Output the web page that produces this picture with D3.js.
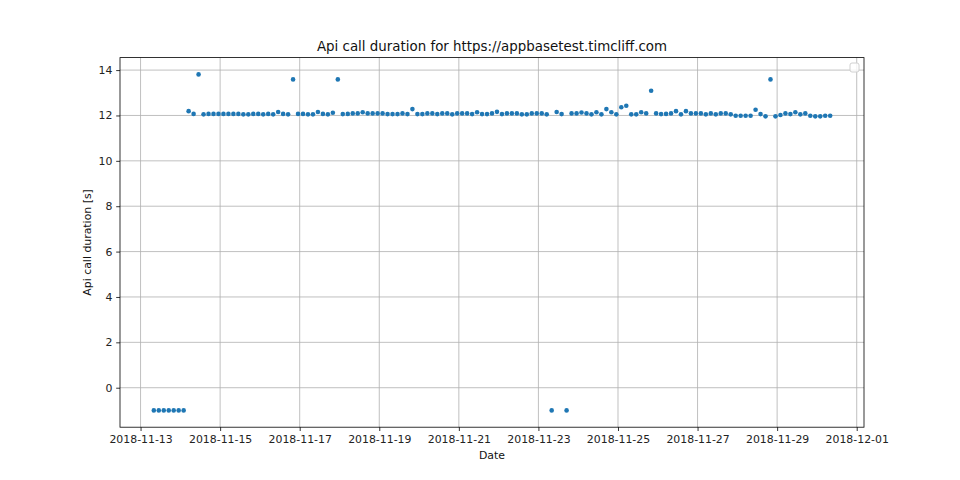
<!DOCTYPE html>
<html>
<head>
<meta charset="utf-8">
<script src="https://cdn.jsdelivr.net/npm/d3@7"></script>
<style>
  html, body { margin: 0; padding: 0; background: #fff; }
  svg { display: block; font-family: "DejaVu Sans", sans-serif; }
</style>
</head>
<body>
<svg id="chart" width="960" height="480"></svg>
<script>
// ---- data ----
const chartTitle = "Api call duration for https://appbasetest.timcliff.com";
const xLabel = "Date";
const yLabel = "Api call duration [s]";
// measurements taken every 3 hours starting at this time
const sampleStart = "2018-11-13T08:00:00";
const sampleStepHours = 3;
const durations = [
  -1, -1, -1, -1, -1, -1, -1,
  12.19, 12.07, 13.81, 12.05, 12.07, 12.07, 12.07, 12.07, 12.07, 12.07,
  12.07, 12.05, 12.05, 12.07, 12.07, 12.05, 12.07, 12.05, 12.15, 12.07,
  12.05, 13.59, 12.07, 12.07, 12.05, 12.05, 12.15, 12.07, 12.05, 12.12,
  13.59, 12.06, 12.07, 12.09, 12.09, 12.14, 12.09, 12.09, 12.09, 12.09,
  12.06, 12.06, 12.06, 12.09, 12.06, 12.28, 12.06, 12.06, 12.09, 12.09,
  12.06, 12.09, 12.09, 12.05, 12.09, 12.09, 12.09, 12.06, 12.14, 12.06,
  12.06, 12.09, 12.16, 12.06, 12.09, 12.09, 12.09, 12.05, 12.05, 12.09,
  12.09, 12.09, 12.05, -1, 12.15, 12.06, -1, 12.09, 12.09, 12.13,
  12.09, 12.05, 12.14, 12.05, 12.28, 12.14, 12.05, 12.36, 12.43, 12.05,
  12.05, 12.14, 12.09, 13.09, 12.09, 12.06, 12.07, 12.09, 12.19, 12.05,
  12.19, 12.09, 12.09, 12.09, 12.05, 12.09, 12.05, 12.09, 12.09, 12.05,
  11.99, 11.99, 11.99, 11.99, 12.25, 12.06, 11.96, 13.59, 11.96, 12.02,
  12.09, 12.06, 12.14, 12.05, 12.09, 11.99, 11.96, 11.96, 11.99, 11.99
];
const xTickDates = ["2018-11-13", "2018-11-15", "2018-11-17", "2018-11-19", "2018-11-21",
                    "2018-11-23", "2018-11-25", "2018-11-27", "2018-11-29", "2018-12-01"];
const yTickValues = [0, 2, 4, 6, 8, 10, 12, 14];

// ---- build records ----
const t0 = new Date(sampleStart);
const points = durations.map((v, i) => ({
  t: new Date(t0.getTime() + i * sampleStepHours * 3600 * 1000),
  v: v
}));

// ---- layout (matplotlib-like) ----
const plotL = 120, plotR = 864, plotT = 57.6, plotB = 427.2;
const labelSize = "10.9px";

const svg = d3.select("#chart");

// autoscale with 5% margins like matplotlib
const tExt = d3.extent(points, d => d.t);
const tSpan = tExt[1] - tExt[0];
const vExt = d3.extent(points, d => d.v);
const vSpan = vExt[1] - vExt[0];

const x = d3.scaleTime()
  .domain([new Date(tExt[0].getTime() - 0.05 * tSpan), new Date(tExt[1].getTime() + 0.05 * tSpan)])
  .range([plotL, plotR]);
const y = d3.scaleLinear()
  .domain([vExt[0] - 0.05 * vSpan, vExt[1] + 0.05 * vSpan])
  .range([plotB, plotT]);

const parseDay = d3.timeParse("%Y-%m-%d");
const xTicks = xTickDates.map(parseDay);
const fmt = d3.timeFormat("%Y-%m-%d");

// grid
const grid = svg.append("g");
grid.selectAll("line.vx").data(xTicks).enter().append("line")
  .attr("x1", d => x(d)).attr("x2", d => x(d))
  .attr("y1", plotT).attr("y2", plotB)
  .attr("stroke", "#b0b0b0").attr("stroke-width", 0.8);
grid.selectAll("line.hy").data(yTickValues).enter().append("line")
  .attr("x1", plotL).attr("x2", plotR)
  .attr("y1", d => y(d)).attr("y2", d => y(d))
  .attr("stroke", "#b0b0b0").attr("stroke-width", 0.8);

// points
svg.append("g").selectAll("circle").data(points).enter().append("circle")
  .attr("cx", d => x(d.t))
  .attr("cy", d => y(d.v))
  .attr("r", 2.3)
  .attr("fill", "#1f77b4");

// axes
const xAxis = d3.axisBottom(x).tickValues(xTicks).tickFormat(fmt)
  .tickSize(3.8).tickPadding(3.8);
const yAxis = d3.axisLeft(y).tickValues(yTickValues).tickFormat(d3.format("d"))
  .tickSize(3.8).tickPadding(3.8);

const gx = svg.append("g").attr("transform", `translate(0,${plotB})`).call(xAxis);
const gy = svg.append("g").attr("transform", `translate(${plotL},0)`).call(yAxis);
[gx, gy].forEach(g => {
  g.select(".domain").remove();
  g.selectAll(".tick line").attr("stroke", "#000").attr("stroke-width", 0.8);
  g.selectAll(".tick text").attr("fill", "#222")
    .style("font-family", "DejaVu Sans").style("font-size", labelSize);
});

// frame
svg.append("rect")
  .attr("x", plotL).attr("y", plotT)
  .attr("width", plotR - plotL).attr("height", plotB - plotT)
  .attr("fill", "none").attr("stroke", "#000").attr("stroke-width", 0.8);

// empty legend box
svg.append("rect")
  .attr("x", 850).attr("y", 63).attr("width", 9).attr("height", 9)
  .attr("rx", 2)
  .attr("fill", "#fff").attr("fill-opacity", 0.8)
  .attr("stroke", "#d0d0d0").attr("stroke-width", 1);

// title & labels
svg.append("text")
  .attr("x", (plotL + plotR) / 2).attr("y", 51)
  .attr("text-anchor", "middle")
  .style("font-size", "13.4px")
  .attr("fill", "#111")
  .text(chartTitle);

svg.append("text")
  .attr("x", (plotL + plotR) / 2).attr("y", 459)
  .attr("text-anchor", "middle")
  .style("font-size", labelSize)
  .attr("fill", "#111")
  .text(xLabel);

svg.append("text")
  .attr("transform", `translate(91,${(plotT + plotB) / 2}) rotate(-90)`)
  .attr("text-anchor", "middle")
  .style("font-size", labelSize)
  .attr("fill", "#111")
  .text(yLabel);
</script>
</body>
</html>
